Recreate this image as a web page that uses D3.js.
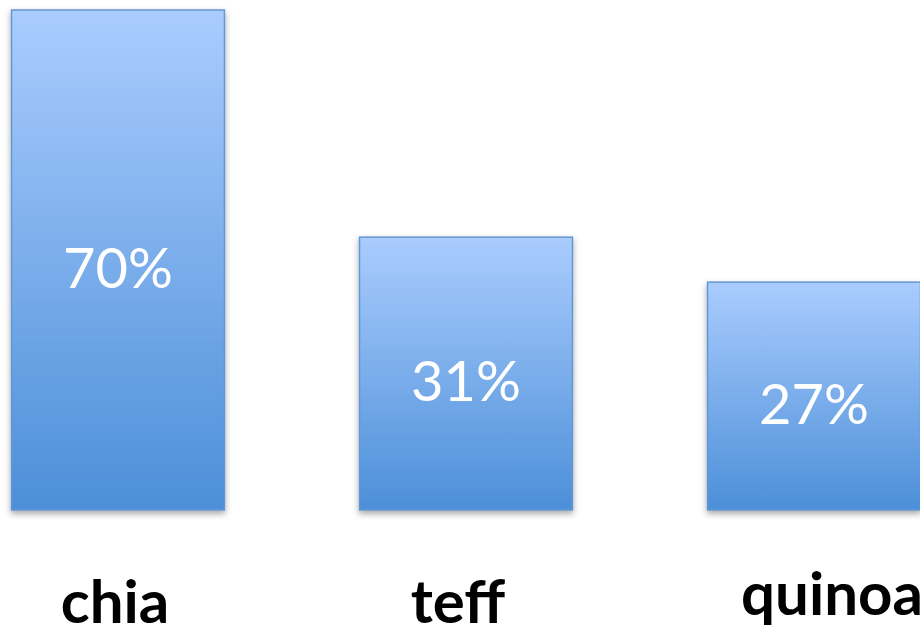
<!DOCTYPE html>
<meta charset="utf-8">
<style>
  html, body { margin: 0; padding: 0; background: #fff; }
  svg { display: block; }
</style>
<svg></svg>
<script src="https://d3js.org/d3.v7.min.js"></script>
<script>
// grains and the share printed on each bar
var grains = ["chia", "teff", "quinoa"],
    shares = ["70%", "31%", "27%"],
    // bar lengths as drawn in the picture (same units as the 70% bar)
    barValues = [70, 38.2, 31.9];

var width = 920, height = 632,
    baseY = 510, topY = 10;

// the category captions are not quite centred under their bars in the original
var labelDx = [-3, -8, 18],
    labelDy = [0, 0, -8];

var svg = d3.select("svg")
    .attr("width", width)
    .attr("height", height);

var defs = svg.append("defs");

var grad = defs.append("linearGradient")
    .attr("id", "barFill")
    .attr("x1", 0).attr("y1", 0)
    .attr("x2", 0).attr("y2", 1);
grad.append("stop").attr("offset", "0%").attr("stop-color", "#aaccfe");
grad.append("stop").attr("offset", "100%").attr("stop-color", "#4c8fd8");

var shadow = defs.append("filter")
    .attr("id", "shadow")
    .attr("x", "-10%").attr("y", "-10%")
    .attr("width", "120%").attr("height", "120%");
shadow.append("feDropShadow")
    .attr("dx", 0).attr("dy", 3)
    .attr("stdDeviation", 3)
    .attr("flood-color", "#000")
    .attr("flood-opacity", 0.35);

var x = d3.scaleBand()
    .domain(grains)
    .range([11.5, 920.5])
    .paddingInner(0.388)
    .paddingOuter(0);

var y = d3.scaleLinear()
    .domain([0, 70])
    .range([baseY, topY]);

var bars = svg.selectAll(".bar")
  .data(grains)
  .enter().append("g")
    .attr("class", "bar");

bars.append("rect")
    .attr("x", function(d) { return x(d); })
    .attr("y", function(d, i) { return y(barValues[i]); })
    .attr("width", x.bandwidth())
    .attr("height", function(d, i) { return y(0) - y(barValues[i]); })
    .attr("fill", "url(#barFill)")
    .attr("stroke", "#6497d2")
    .attr("stroke-width", 1.5)
    .attr("filter", "url(#shadow)");

// share labels, centred in each bar
bars.append("text")
    .attr("x", function(d) { return x(d) + x.bandwidth() / 2; })
    .attr("y", function(d, i) { return (y(barValues[i]) + y(0)) / 2 + 6; })
    .attr("text-anchor", "middle")
    .attr("dominant-baseline", "central")
    .attr("fill", "#fff")
    .style("font-family", "Lato, 'Open Sans', sans-serif")
    .style("font-size", "56px")
    .text(function(d, i) { return shares[i]; });

// category labels underneath
svg.selectAll(".cat")
  .data(grains)
  .enter().append("text")
    .attr("class", "cat")
    .attr("x", function(d, i) { return x(d) + x.bandwidth() / 2 + labelDx[i]; })
    .attr("y", function(d, i) { return 623 + labelDy[i]; })
    .attr("text-anchor", "middle")
    .attr("fill", "#000")
    .style("font-family", "Lato, 'Open Sans', sans-serif")
    .style("font-weight", "bold")
    .style("font-size", "60px")
    .text(function(d) { return d; });
</script>
